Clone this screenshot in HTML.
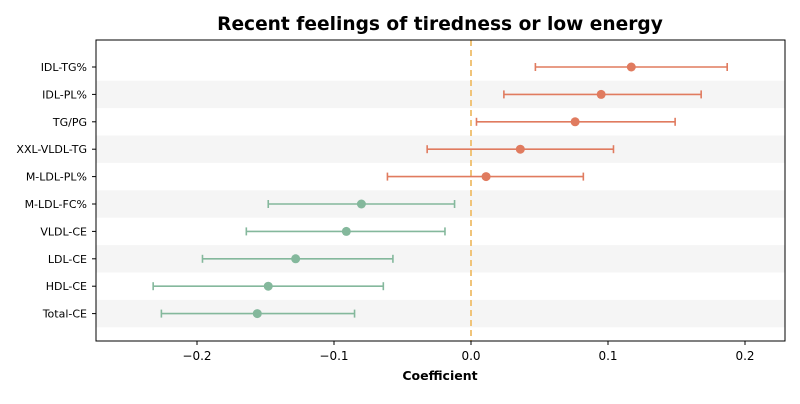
<!DOCTYPE html>
<html><head><meta charset="utf-8"><style>
body{margin:0;background:#fff;font-family:"DejaVu Sans","Liberation Sans",sans-serif}
text{font-family:"DejaVu Sans","Liberation Sans",sans-serif}
</style></head><body>
<svg id="c" width="800" height="400" xmlns="http://www.w3.org/2000/svg"></svg>
<script>
const labels=["IDL-TG%","IDL-PL%","TG/PG","XXL-VLDL-TG","M-LDL-PL%","M-LDL-FC%","VLDL-CE","LDL-CE","HDL-CE","Total-CE"];
const coef=[0.117,0.095,0.076,0.036,0.011,-0.080,-0.091,-0.128,-0.148,-0.156];
const lower=[0.047,0.024,0.004,-0.032,-0.061,-0.148,-0.164,-0.196,-0.232,-0.226];
const upper=[0.187,0.168,0.149,0.104,0.082,-0.012,-0.019,-0.057,-0.064,-0.085];
const xticks=[-0.2,-0.1,0.0,0.1,0.2];
const xtickLabels=["\u22120.2","\u22120.1","0.0","0.1","0.2"];
const NS="http://www.w3.org/2000/svg",svg=document.getElementById('c');
const L=96,R=785,T=40,B=341;
const x=v=>471+v*1370;
const y=i=>67+i*27.4;
function el(t,a,p){const e=document.createElementNS(NS,t);for(const k in a)e.setAttribute(k,a[k]);(p||svg).appendChild(e);return e;}
let t=el('text',{x:440,y:30,'text-anchor':'middle','font-size':18.6,'font-weight':'bold',fill:'#000'});t.textContent="Recent feelings of tiredness or low energy";

labels.forEach((lb,i)=>{if(i%2===1){const r=el('rect',{x:L,y:y(i)-13.7,width:R-L,height:27.4,fill:'#f5f5f5'});
}});
const z=el('line',{x1:x(0),x2:x(0),y1:T,y2:B,stroke:'#f0c47a','stroke-width':2,'stroke-dasharray':'6,4'});

labels.forEach((lb,i)=>{
 const c=coef[i]>=0?'#e07b5f':'#84b89c';
 const g=el('g',{});
 el('line',{x1:x(lower[i]),x2:x(upper[i]),y1:y(i),y2:y(i),stroke:c,'stroke-width':1.6},g);
 el('line',{x1:x(lower[i]),x2:x(lower[i]),y1:y(i)-4,y2:y(i)+4,stroke:c,'stroke-width':1.6},g);
 el('line',{x1:x(upper[i]),x2:x(upper[i]),y1:y(i)-4,y2:y(i)+4,stroke:c,'stroke-width':1.6},g);
 el('circle',{cx:x(coef[i]),cy:y(i),r:4.5,fill:c},g);
 el('line',{x1:L-4,x2:L,y1:y(i),y2:y(i),stroke:'#000'});
 const tx=el('text',{x:L-9,y:y(i)+4,'text-anchor':'end','font-size':11,fill:'#000'});tx.textContent=lb;
 
});
xticks.forEach((v,i)=>{el('line',{x1:x(v),x2:x(v),y1:B,y2:B+4,stroke:'#000'});
 const tx=el('text',{x:x(v),y:B+19,'text-anchor':'middle','font-size':12,fill:'#000'});tx.textContent=xtickLabels[i];
 });
const ax=el('rect',{x:L,y:T,width:R-L,height:B-T,fill:'none',stroke:'#000','stroke-width':1});

t=el('text',{x:440,y:380,'text-anchor':'middle','font-size':12.5,'font-weight':'bold',fill:'#000'});t.textContent="Coefficient";

</script></body></html>
